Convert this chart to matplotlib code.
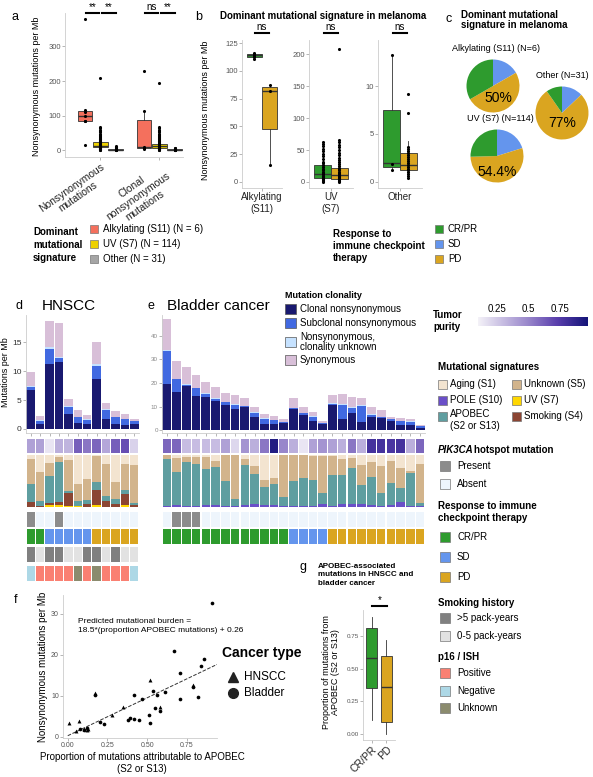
import numpy as np
import matplotlib.pyplot as plt
from matplotlib.patches import Rectangle
from matplotlib.lines import Line2D
from matplotlib.colors import LinearSegmentedColormap, Normalize

plt.rcParams['font.family'] = ['Liberation Sans', 'DejaVu Sans']

# ---------------- colours ----------------
c_cr, c_sd, c_pd = '#2E9B2E', '#6495ED', '#DAA520'
c_alk, c_uv, c_oth = '#F4705D', '#EDD100', '#A5A5A5'
c_clonal, c_subcl, c_unkcl, c_syn = '#191970', '#4169E1', '#C6E2FF', '#D8BFD8'
c_aging, c_unk5, c_pole, c_uv7, c_apobec, c_smoke = '#F3E4D0', '#D2B48C', '#6A4FC8', '#FFD700', '#5F9EA0', '#8B4533'
c_pik_yes, c_pik_no = '#8C8C8C', '#EEF5FC'
c_smk_hi, c_smk_lo = '#808080', '#E2E2E2'
c_p16 = {'pos': '#FA8072', 'neg': '#ADD8E6', 'unk': '#8B8B6E'}
c_resp = {'CR': c_cr, 'SD': c_sd, 'PD': c_pd}
purity_cmap = LinearSegmentedColormap.from_list(
    'purity', [(0, '#F4F2F8'), (0.45, '#9A88CC'), (0.72, '#5A3FAD'), (1, '#141478')])
purity_norm = Normalize(0.1, 0.97)

# ---------------- panel a data ----------------
a_groups = ['Nonsynonymous\nmutations', 'Clonal\nnonsynonymous\nmutations']
# (q1, median, q3, whisker low, whisker high) for Alkylating, UV, Other
a_stats_nonsyn = [(83, 98, 113, 83, 115), (8, 13, 24, 0, 48), (0.5, 1.5, 3, 0, 6)]
a_stats_clonal = [(5, 8, 88, 3, 113), (5, 11, 19, 0, 40), (0.3, 1, 2.5, 0, 5)]
a_pts_nonsyn = [
    [380, 115, 110, 98, 85, 83, 15],
    [0.5, 1.5, 2, 3, 4, 5, 6, 7, 8, 9, 10, 11, 12, 13, 14, 15, 16, 17, 19, 20, 21, 23, 25, 27,
     29, 31, 33, 35, 38, 41, 44, 47, 51, 55, 59, 63, 66, 208],
    [0.3, 1, 1.5, 2, 3, 4, 5, 6, 8, 10, 12],
]
a_pts_clonal = [
    [228, 113, 8, 5, 3],
    [0.5, 1.5, 2, 3, 4, 5, 6, 7, 8, 9, 10, 11, 12, 13, 14, 15, 16, 18, 19, 21, 23, 25, 27, 29,
     31, 34, 37, 40, 43, 47, 51, 55, 59, 63, 66, 195],
    [0.2, 0.6, 1, 1.5, 2, 3, 4, 5, 7],
]
a_sig_nonsyn = ['**', '**']
a_sig_clonal = ['ns', '**']

# ---------------- panel b data ----------------
b_groups = ['Alkylating\n(S11)', 'UV\n(S7)', 'Other']
b_ticks = [[0, 25, 50, 75, 100, 125], [0, 50, 100, 150, 200], [0, 5, 10]]
b_ylims = [(-5.4, 127.7), (-9.4, 222), (-0.63, 14.8)]
# (q1, median, q3, whisker low, whisker high) for CR/PR and PD
b_stats = [
    [(112, 114, 115.5, 111, 116.5), (48, 82, 85, 15, 87)],
    [(7, 12, 27, 0, 58), (5, 11, 22, 0, 52)],
    [(1.6, 2.0, 7.5, 1.1, 13.2), (1.2, 1.8, 3.0, 0.4, 4.3)],
]
b_pts = [
    [[111, 112, 113, 114, 115, 116], [87, 82, 15]],
    [[0.5, 2, 3, 4, 5, 6, 7, 8, 9, 10, 12, 14, 16, 18, 20, 23, 26, 29, 32, 36, 40, 44, 48, 52,
      56, 60, 63],
     [0.5, 1.5, 2, 3, 4, 5, 6, 7, 8, 9, 10, 11, 12, 14, 16, 18, 20, 22, 25, 28, 31, 34, 38, 42,
      46, 50, 54, 58, 62, 65, 208]],
    [[1.2, 1.9, 13.2],
     [0.4, 0.6, 0.8, 1.0, 1.2, 1.4, 1.6, 1.8, 2.0, 2.2, 2.4, 2.6, 2.8, 3.0, 3.2, 3.4, 3.6,
      7.2, 9.2]],
]
b_sig = ['ns', 'ns', 'ns']

# ---------------- panel c data ----------------
pie_titles = ['Alkylating (S11) (N=6)', 'Other (N=31)', 'UV (S7) (N=114)']
pie_counts = [[1, 3, 2], [4, 24, 3], [23, 62, 29]]   # SD, PD, CR/PR
pie_labels = ['50%', '77%', '54.4%']

# ---------------- panel d data (HNSCC) ----------------
clonal_d = [6.8, 0.8, 11.3, 11.6, 2.5, 1.0, 0.9, 8.6, 1.8, 0.9, 0.6, 0.9]
subcl_d = [0.5, 0.6, 2.5, 0.7, 1.3, 1.0, 0.7, 2.3, 1.5, 1.1, 1.1, 0.4]
unkcl_d = [0.2, 0.1, 0.4, 0.1, 0.1, 0.1, 0.05, 0.3, 0.1, 0.05, 0.05, 0.05]
syn_d = [2.3, 0.7, 4.5, 5.9, 1.3, 1.1, 0.75, 3.8, 1.1, 1.05, 0.75, 0.45]
purity_d = [0.40, 0.40, 0.15, 0.35, 0.33, 0.62, 0.55, 0.60, 0.38, 0.62, 0.68, 0.22]
uv_d = [0.00, 0.00, 0.03, 0.04, 0.01, 0.01, 0.00, 0.03, 0.00, 0.00, 0.03, 0.00]
smoke_d = [0.10, 0.02, 0.04, 0.06, 0.25, 0.01, 0.05, 0.30, 0.12, 0.05, 0.22, 0.03]
pole_d = [0.00] * 12
apobec_d = [0.34, 0.10, 0.53, 0.77, 0.05, 0.10, 0.08, 0.15, 0.10, 0.10, 0.08, 0.05]
unk5_d = [0.49, 0.55, 0.25, 0.10, 0.60, 0.33, 0.40, 0.50, 0.60, 0.33, 0.50, 0.73]
aging_d = [0.07, 0.33, 0.15, 0.03, 0.09, 0.55, 0.47, 0.02, 0.18, 0.52, 0.17, 0.19]
pik_d = [1, 0, 0, 1, 0, 0, 0, 0, 0, 0, 0, 0]
resp_d = ['CR', 'CR', 'SD', 'SD', 'SD', 'SD', 'SD', 'PD', 'PD', 'PD', 'PD', 'PD']
smoking_d = [1, 0, 1, 1, 0, 0, 1, 1, 0, 1, 0, 0]
p16_d = ['neg', 'pos', 'pos', 'pos', 'pos', 'unk', 'pos', 'unk', 'pos', 'pos', 'pos', 'neg']

# ---------------- panel e data (bladder) ----------------
clonal_e = [19.5, 16.3, 18.5, 14.5, 14.2, 12.5, 10.8, 9.1, 9.6, 5.5, 2.6, 2.5, 2.9, 9.0, 6.5,
            3.8, 2.8, 10.5, 4.7, 7.4, 3.6, 5.7, 5.0, 3.7, 2.3, 2.3, 0.8]
subcl_e = [14.0, 5.2, 0.8, 3.3, 1.3, 0.8, 1.0, 1.7, 0.5, 1.8, 2.0, 1.8, 0.6, 0.4, 0.6, 1.6, 0.2,
           0.5, 6.0, 1.8, 6.7, 0.9, 0.6, 0.9, 1.5, 1.3, 0.8]
unkcl_e = [0.2, 0.1, 0.1, 0.2, 0.1, 0.4, 0.1, 0.1, 0.1, 0.3, 0.5, 0.1, 0.1, 0.1, 0.1, 0.5, 0.1,
           0.5, 0.3, 0.4, 0.3, 0.4, 0.1, 0.1, 0.1, 0.1, 0.1]
syn_e = [13.3, 7.7, 7.1, 5.3, 4.9, 4.5, 3.9, 3.9, 3.6, 2.4, 1.6, 1.4, 1.0, 4.3, 2.8, 1.9, 0.9,
         3.4, 4.1, 4.6, 3.2, 3.0, 2.7, 0.9, 1.4, 0.9, 0.3]
purity_e = [0.60, 0.60, 0.30, 0.30, 0.30, 0.30, 0.40, 0.20, 0.45, 0.35, 0.55, 0.92, 0.50, 0.35,
            0.15, 0.40, 0.45, 0.40, 0.35, 0.55, 0.35, 0.80, 0.80, 0.78, 0.80, 0.35, 0.60]
pole_e = [.02, .03, .02, .02, .04, .03, .02, .02, .03, .05, .03, .03, .02, .02, .02, .02, .06, .02,
          .05, .05, .05, .03, .02, .03, .10, .02, .02]
apobec_e = [.90, .65, .85, .80, .70, .74, .48, .13, .78, .58, .35, .42, .18, .48, .54, .50, .20, .60,
            .56, .70, .37, .55, .25, .43, .27, .64, .06]
unk5_e = [.08, .27, .10, .15, .22, .12, .50, .85, .12, .16, .14, .10, .80, .50, .44, .46, .72, .36,
          .32, .20, .38, .28, .52, .42, .38, .04, .74]
aging_e = [0, .05, .03, .03, .04, .11, 0, 0, .07, .21, .48, .45, 0, 0, 0, .02, .02, .02, .07, .05,
           .20, .14, .21, .12, .25, .30, .18]
pik_e = [0, 1, 1, 1] + [0] * 23
resp_e = ['CR'] * 13 + ['SD'] * 4 + ['PD'] * 10

# ---------------- panel f data ----------------
hn_x = [0.01, 0.07, 0.05, 0.12, 0.17, 0.35, 0.52, 0.13, 0.58, 0.79, 0.10, 0.28]
hn_y = [3.3, 3.8, 1.4, 1.6, 10.7, 7.3, 13.8, 2.0, 7.2, 12.6, 1.8, 5.4]
bl_x = [0.08, 0.10, 0.12, 0.17, 0.20, 0.23, 0.38, 0.39, 0.42, 0.42, 0.45, 0.47, 0.51, 0.52,
        0.54, 0.55, 0.56, 0.58, 0.61, 0.67, 0.71, 0.71, 0.79, 0.82, 0.84, 0.86, 0.91]
bl_y = [1.8, 1.7, 2.1, 10.3, 3.5, 3.0, 4.1, 4.5, 4.4, 10.3, 4.2, 9.3, 5.3, 3.4, 11.2, 6.9, 10.2,
        6.4, 10.9, 21.0, 15.5, 9.2, 12.2, 9.7, 17.3, 18.9, 32.6]
fit_slope, fit_icpt = 18.5, 0.26

# ---------------- panel g data ----------------
g_groups = ['CR/PR', 'PD']
g_stats = [(0.35, 0.58, 0.81, 0.11, 0.90), (0.09, 0.36, 0.60, 0.0, 0.72)]

W, H = 593, 777
fig = plt.figure(figsize=(W / 100, H / 100), dpi=100)


def axes_px(x0, y0, x1, y1):
    return fig.add_axes([x0 / W, 1 - y1 / H, (x1 - x0) / W, (y1 - y0) / H])


def txt(x, y, s, **kw):
    kw.setdefault('va', 'center')
    fig.text(x / W, 1 - y / H, s, **kw)


def key(x, y, color, label, size=8, fs=7, dx=12):
    fig.patches.append(Rectangle((x / W, 1 - (y + size / 2) / H), size / W, size / H,
                                 transform=fig.transFigure, facecolor=color,
                                 edgecolor='#777777', lw=0.5))
    txt(x + dx, y, label, fontsize=fs)


def light_axes(ax, fs=5.5):
    for s in ['top', 'right']:
        ax.spines[s].set_visible(False)
    for s in ['left', 'bottom']:
        ax.spines[s].set_color('#CCCCCC')
        ax.spines[s].set_linewidth(0.6)
    ax.tick_params(length=2, width=0.5, color='#999999', labelsize=fs, labelcolor='#555555', pad=1)


def box(ax, pos, st, color, width):
    q1, med, q3, lo, hi = st
    ax.bxp([dict(med=med, q1=q1, q3=q3, whislo=lo, whishi=hi, fliers=[])], positions=[pos],
           widths=width, patch_artist=True, showfliers=False, showcaps=False,
           boxprops=dict(facecolor=color, edgecolor='#333333', lw=0.6),
           whiskerprops=dict(color='#333333', lw=0.6),
           medianprops=dict(color='#333333', lw=1.0))


def sig_bar(ax, x0, x1, label, yax=1.0):
    tr = ax.get_xaxis_transform()
    ax.plot([x0, x1], [yax, yax], color='black', lw=1.5, transform=tr, clip_on=False)
    ax.annotate(label, xy=((x0 + x1) / 2, yax), xycoords=tr, xytext=(0, 1), textcoords='offset points',
                ha='center', va='bottom', fontsize=7)


# ================= panel a =================
ax = axes_px(65, 13, 183, 157)
light_axes(ax)
offs = [-0.26, 0, 0.26]
sig_cols = [c_alk, c_uv, c_oth]
for gi, (stats, pts) in enumerate([(a_stats_nonsyn, a_pts_nonsyn), (a_stats_clonal, a_pts_clonal)]):
    for si in range(3):
        box(ax, gi + offs[si], stats[si], sig_cols[si], 0.25)
        ax.scatter([gi + offs[si]] * len(pts[si]), pts[si], s=5, color='black', zorder=5, lw=0)
for gi, sigs in enumerate([a_sig_nonsyn, a_sig_clonal]):
    sig_bar(ax, gi - 0.24, gi - 0.02, sigs[0])
    sig_bar(ax, gi + 0.03, gi + 0.26, sigs[1])
ax.set_xlim(-0.6, 1.4)
ax.set_ylim(-20, 397)
ax.set_yticks([0, 100, 200, 300])
ax.set_xticks([0, 1])
ax.set_xticklabels(a_groups, rotation=35, ha='right', rotation_mode='anchor', fontsize=7.5,
                   color='#222222', multialignment='center')
txt(37, 86, 'Nonsynonymous mutations per Mb', rotation=90, ha='center', fontsize=6.5)
txt(12, 17, 'a', fontsize=9)

# ================= panel b =================
b_px = [(242, 282), (309, 353), (378, 422)]
for bi in range(3):
    ax = axes_px(b_px[bi][0], 40, b_px[bi][1], 188)
    light_axes(ax)
    for ri, col in enumerate([c_cr, c_pd]):
        pos = [-0.23, 0.23][ri]
        box(ax, pos, b_stats[bi][ri], col, 0.45)
        ax.scatter([pos] * len(b_pts[bi][ri]), b_pts[bi][ri], s=5, color='black', zorder=5, lw=0)
    ax.set_xlim(-0.6, 0.6)
    ax.set_ylim(*b_ylims[bi])
    ax.set_yticks(b_ticks[bi])
    ax.set_xticks([0])
    ax.set_xticklabels([b_groups[bi]], fontsize=7, color='#222222')
    sig_bar(ax, -0.2, 0.2, b_sig[bi], yax=1.047)
txt(205, 110, 'Nonsynonymous mutations per Mb', rotation=90, ha='center', fontsize=6.5)
txt(195, 17, 'b', fontsize=9)
txt(220, 16, 'Dominant mutational signature in melanoma', fontsize=7, fontweight='bold')

# ================= panel c =================
txt(445, 19, 'c', fontsize=9)
txt(461, 20, 'Dominant mutational\nsignature in melanoma', fontsize=7, fontweight='bold',
    linespacing=1.1)
pie_centers = [(493, 86), (562, 113), (497, 156)]
label_dy = [-0.45, -0.37, -0.6]
for pi in range(3):
    cx, cy = pie_centers[pi]
    r = 26.5
    ax = axes_px(cx - r, cy - r, cx + r, cy + r)
    ax.pie(pie_counts[pi], colors=[c_sd, c_pd, c_cr], startangle=90, counterclock=False,
           wedgeprops=dict(lw=0))
    ax.set_xlim(-1, 1)
    ax.set_ylim(-1, 1)
    ax.text(0.2 if pi == 0 else 0, label_dy[pi], pie_labels[pi], ha='center', va='center', fontsize=10)
    txt(cx + (3 if pi != 1 else 0), cy - r - 11, pie_titles[pi], ha='center', fontsize=6.5)

# ================= legends row =================
txt(33, 245, 'Dominant\nmutational\nsignature', fontsize=7, fontweight='bold', linespacing=1.4)
for i, (col, lab) in enumerate(zip(sig_cols, ['Alkylating (S11) (N = 6)', 'UV (S7) (N = 114)',
                                              'Other (N = 31)'])):
    key(90, 229 + 15 * i, col, lab, fs=7, dx=13)
txt(333, 246, 'Response to\nimmune checkpoint\ntherapy', fontsize=7, fontweight='bold', linespacing=1.3)
for i, (col, lab) in enumerate(zip([c_cr, c_sd, c_pd], ['CR/PR', 'SD', 'PD'])):
    key(435, 229 + 15 * i, col, lab, fs=7, dx=13)


# ================= panels d and e =================
def bar_panel(x0, x1, clonal, subcl, unkcl, syn, ylim, ticks, fs, lc):
    ax = axes_px(x0, 315, x1, 433)
    n = len(clonal)
    xs = np.arange(n)
    bottom = np.zeros(n)
    for vals, col in [(clonal, c_clonal), (subcl, c_subcl), (unkcl, c_unkcl), (syn, c_syn)]:
        ax.bar(xs, vals, bottom=bottom, width=0.9, color=col, lw=0)
        bottom += np.array(vals)
    ax.set_xlim(-0.5, n - 0.5)
    ax.set_ylim(*ylim)
    ax.set_yticks(ticks)
    ax.set_xticks(xs)
    light_axes(ax, fs)
    ax.tick_params(axis='y', labelcolor=lc)
    ax.tick_params(axis='x', labelbottom=False, length=2)
    return ax


def tile_row(x0, x1, y0, y1, colors):
    ax = axes_px(x0, y0, x1, y1)
    n = len(colors)
    ax.bar(np.arange(n), [1] * n, width=0.88, color=colors, lw=0)
    ax.set_xlim(-0.5, n - 0.5)
    ax.set_ylim(0, 1)
    ax.axis('off')
    return ax


def sig_row(x0, x1, layers):
    ax = axes_px(x0, 455, x1, 507)
    n = len(layers[0][0])
    bottom = np.zeros(n)
    for vals, col in layers:
        ax.bar(np.arange(n), vals, bottom=bottom, width=0.88, color=col, lw=0)
        bottom += np.array(vals)
    ax.set_xlim(-0.5, n - 0.5)
    ax.set_ylim(0, 1)
    ax.axis('off')


# d
bar_panel(26, 139, clonal_d, subcl_d, unkcl_d, syn_d, (-0.7, 19.7), [0, 5, 10, 15], 6, '#333333')
txt(6, 372, 'Mutations per Mb', rotation=90, ha='center', fontsize=6.5)
txt(15, 306, 'd', fontsize=9)
txt(42, 306, 'HNSCC', fontsize=11)
tile_row(26, 139, 439, 453, [purity_cmap(purity_norm(v)) for v in purity_d])
sig_row(26, 139, [(uv_d, c_uv7), (smoke_d, c_smoke), (pole_d, c_pole), (apobec_d, c_apobec),
                  (unk5_d, c_unk5), (aging_d, c_aging)])
tile_row(26, 139, 512, 527, [c_pik_yes if v else c_pik_no for v in pik_d])
tile_row(26, 139, 529, 544, [c_resp[v] for v in resp_d])
tile_row(26, 139, 547, 562, [c_smk_hi if v else c_smk_lo for v in smoking_d])
tile_row(26, 139, 566, 581, [c_p16[v] for v in p16_d])

# e
bar_panel(162, 425, clonal_e, subcl_e, unkcl_e, syn_e, (-1.2, 48.7), [0, 10, 20, 30, 40], 4.5,
          '#888888')
txt(147, 306, 'e', fontsize=9)
txt(167, 306, 'Bladder cancer', fontsize=11)
tile_row(162, 425, 439, 453, [purity_cmap(purity_norm(v)) for v in purity_e])
sig_row(162, 425, [(pole_e, c_pole), (apobec_e, c_apobec), (unk5_e, c_unk5), (aging_e, c_aging)])
tile_row(162, 425, 512, 527, [c_pik_yes if v else c_pik_no for v in pik_e])
tile_row(162, 425, 529, 544, [c_resp[v] for v in resp_e])

# clonality legend
txt(285, 296, 'Mutation clonality', fontsize=6.5, fontweight='bold')
for y, col, lab in [(309, c_clonal, 'Clonal nonsynonymous'), (323, c_subcl, 'Subclonal nonsynonymous'),
                    (342, c_unkcl, 'Nonsynonymous,\nclonality unknown'), (360, c_syn, 'Synonymous')]:
    fig.patches.append(Rectangle((285 / W, 1 - (y + 5) / H), 11 / W, 10 / H, transform=fig.transFigure,
                                 facecolor=col, edgecolor='#555555', lw=0.5))
    txt(300, y, lab, fontsize=7, linespacing=0.95)

# ================= right-hand legends =================
txt(433, 321, 'Tumor\npurity', fontsize=7, fontweight='bold', linespacing=1.3)
cax = axes_px(478, 317, 588, 326)
grad = np.linspace(0.1, 0.97, 256)[None, :]
cax.imshow(grad, aspect='auto', cmap=purity_cmap, norm=purity_norm, extent=(0.1, 0.97, 0, 1))
cax.set_yticks([])
cax.set_xticks([0.25, 0.5, 0.75])
cax.set_xticklabels(['0.25', '0.5', '0.75'])
cax.xaxis.tick_top()
cax.tick_params(axis='x', length=0, labelsize=7, pad=2)
for s in cax.spines.values():
    s.set_visible(False)

txt(438, 367, 'Mutational signatures', fontsize=7, fontweight='bold')
for x, y, col, lab in [(438, 384, c_aging, 'Aging (S1)'), (512, 384, c_unk5, 'Unknown (S5)'),
                       (438, 400, c_pole, 'POLE (S10)'), (512, 400, c_uv7, 'UV (S7)'),
                       (438, 420, c_apobec, 'APOBEC\n(S2 or S13)'), (512, 416, c_smoke, 'Smoking (S4)')]:
    key(x, 416 if y == 420 else y, col, '', size=9)
    txt(x + 12, y, lab, fontsize=7, linespacing=1.15)

txt(438, 450, 'PIK3CA', fontsize=7, fontweight='bold', fontstyle='italic')
txt(474, 450, 'hotspot mutation', fontsize=7, fontweight='bold')
key(440, 466, c_pik_yes, 'Present', size=10, dx=17)
key(440, 484, c_pik_no, 'Absent', size=10, dx=17)

txt(438, 512, 'Response to immune\ncheckpoint therapy', fontsize=7, fontweight='bold', linespacing=1.3)
for i, (col, lab) in enumerate(zip([c_cr, c_sd, c_pd], ['CR/PR', 'SD', 'PD'])):
    key(440, 537 + 20 * i, col, lab, size=10, dx=17)

txt(438, 603, 'Smoking history', fontsize=7, fontweight='bold')
key(440, 618, c_smk_hi, '>5 pack-years', size=10, dx=17)
key(440, 636, c_smk_lo, '0-5 pack-years', size=10, dx=17)

txt(438, 657, 'p16 / ISH', fontsize=7, fontweight='bold')
for i, (k, lab) in enumerate([('pos', 'Positive'), ('neg', 'Negative'), ('unk', 'Unknown')]):
    key(440, 673 + 17.5 * i, c_p16[k], lab, size=10, dx=17)

# ================= panel f =================
ax = axes_px(63, 595, 217, 738)
light_axes(ax, 5)
ax.scatter(hn_x, hn_y, marker='^', s=8, color='black', lw=0, zorder=3)
ax.scatter(bl_x, bl_y, marker='o', s=7, color='black', lw=0, zorder=3)
fx = np.array([0, max(bl_x) + 0.03])
ax.plot(fx, fit_slope * fx + fit_icpt, ls='--', color='#333333', lw=0.7)
ax.set_xlim(-0.03, 0.94)
ax.set_ylim(-0.3, 34.6)
ax.set_xticks([0, 0.25, 0.5, 0.75])
ax.set_xticklabels(['0.00', '0.25', '0.50', '0.75'])
ax.set_yticks([0, 10, 20, 30])
ax.text(0.1, 0.78, 'Predicted mutational burden =\n18.5*(proportion APOBEC mutations) + 0.26',
        transform=ax.transAxes, fontsize=6, va='center', linespacing=1.4)
txt(43, 667, 'Nonsynonymous mutations per Mb', rotation=90, ha='center', fontsize=7)
txt(142, 763, 'Proportion of mutations attributable to APOBEC\n(S2 or S13)', ha='center',
    fontsize=7, linespacing=1.2)
txt(14, 600, 'f', fontsize=9)
txt(222, 653, 'Cancer type', fontsize=10, fontweight='bold')
fig.add_artist(Line2D([233 / W], [1 - 677 / H], marker='^', ms=7, color='#222222', lw=0,
                      transform=fig.transFigure))
fig.add_artist(Line2D([233 / W], [1 - 693 / H], marker='o', ms=7, color='#222222', lw=0,
                      transform=fig.transFigure))
txt(244, 677, 'HNSCC', fontsize=8.5)
txt(244, 693, 'Bladder', fontsize=8.5)

# ================= panel g =================
txt(300, 567, 'g', fontsize=9)
txt(318, 575, 'APOBEC-associated\nmutations in HNSCC and\nbladder cancer', fontsize=5.8,
    fontweight='bold', linespacing=1.3)
ax = axes_px(363, 610, 395, 740)
light_axes(ax, 4.5)
for i, col in enumerate([c_cr, c_pd]):
    box(ax, i, g_stats[i], col, 0.75)
ax.set_xlim(-0.6, 1.6)
ax.set_ylim(-0.046, 0.95)
ax.set_yticks([0, 0.25, 0.5, 0.75])
ax.set_yticklabels(['0.00', '0.25', '0.50', '0.75'])
ax.set_xticks([0, 1])
ax.set_xticklabels(g_groups, rotation=45, ha='right', rotation_mode='anchor', fontsize=7.5,
                   color='#222222')
sig_bar(ax, 0.05, 1.05, '*', yax=1.03)
txt(331, 672, 'Proportion of mutations from\nAPOBEC (S2 or S13)', rotation=90, ha='center',
    fontsize=6.5, linespacing=1.1)

fig.savefig('out.png', dpi=100)
